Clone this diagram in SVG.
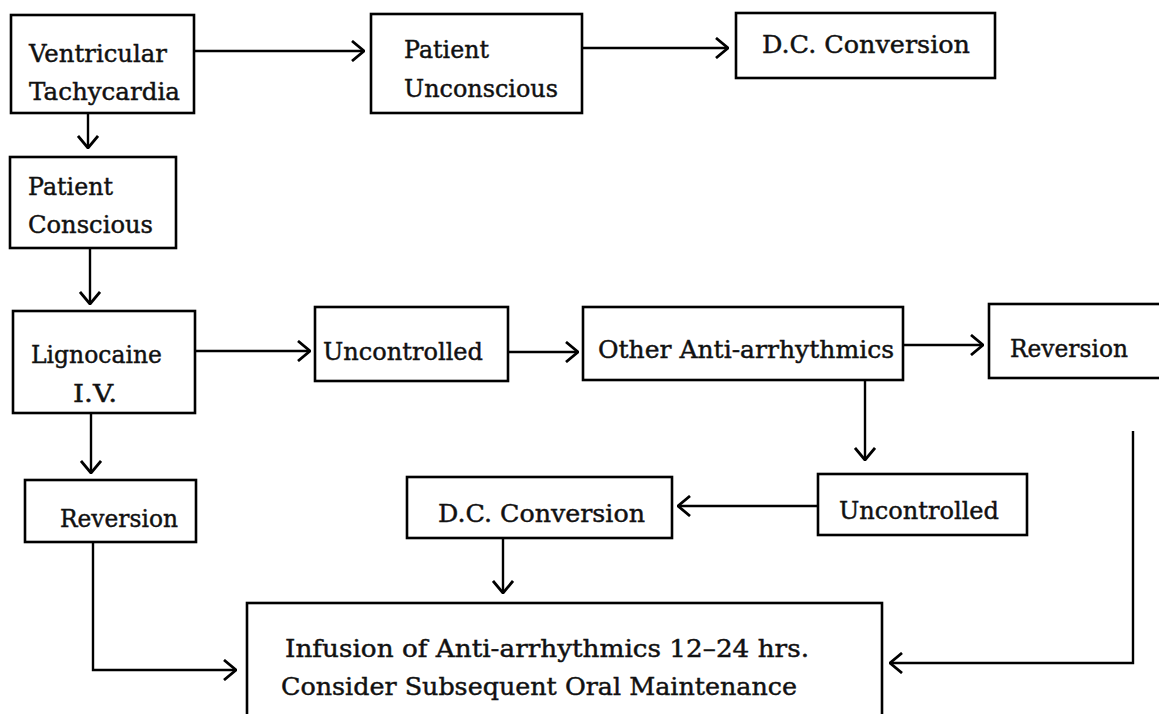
<svg xmlns="http://www.w3.org/2000/svg" width="1159" height="714" viewBox="0 0 1159 714">
<style>
.box{fill:none;stroke:#000;stroke-width:2.6}
.t{font-family:"DejaVu Serif","Liberation Serif",serif;font-size:25px;fill:#111;stroke:#111;stroke-width:0.45}
.c{fill:none;stroke:#000;stroke-width:2.4}
</style>
<defs>
<marker id="ah" viewBox="0 0 14 22" refX="13" refY="11" markerWidth="14" markerHeight="22" markerUnits="userSpaceOnUse" orient="auto">
<path d="M1,1 L13,11 L1,21" fill="none" stroke="#000" stroke-width="2.8"/>
</marker>
</defs>
<rect width="1159" height="714" fill="#fff"/>
<g id="connectors">
<path class="c" d="M194,51 H364" marker-end="url(#ah)"/>
<path class="c" d="M582,48 H728" marker-end="url(#ah)"/>
<path class="c" d="M88,113 V148" marker-end="url(#ah)"/>
<path class="c" d="M90,248 V304" marker-end="url(#ah)"/>
<path class="c" d="M195,351 H310" marker-end="url(#ah)"/>
<path class="c" d="M508,352 H578" marker-end="url(#ah)"/>
<path class="c" d="M903,345 H983" marker-end="url(#ah)"/>
<path class="c" d="M865,380 V460" marker-end="url(#ah)"/>
<path class="c" d="M818,506 H678" marker-end="url(#ah)"/>
<path class="c" d="M503,538 V593" marker-end="url(#ah)"/>
<path class="c" d="M91,413 V473" marker-end="url(#ah)"/>
<path class="c" d="M93,542 V670 H236" marker-end="url(#ah)"/>
<path class="c" d="M1133,431 V663 H890" marker-end="url(#ah)"/>
</g>
<g id="n1"><rect class="box" x="11" y="15" width="183" height="98"/>
<text class="t" x="29" y="62" textLength="138" lengthAdjust="spacingAndGlyphs">Ventricular</text>
<text class="t" x="29" y="100" textLength="151" lengthAdjust="spacingAndGlyphs">Tachycardia</text></g>
<g id="n2"><rect class="box" x="371" y="14" width="211" height="99"/>
<text class="t" x="404" y="58" textLength="85" lengthAdjust="spacingAndGlyphs">Patient</text>
<text class="t" x="404" y="97" textLength="154" lengthAdjust="spacingAndGlyphs">Unconscious</text></g>
<g id="n3"><rect class="box" x="736" y="13" width="259" height="65"/>
<text class="t" x="762" y="53" textLength="208" lengthAdjust="spacingAndGlyphs">D.C.  Conversion</text></g>
<g id="n4"><rect class="box" x="10" y="157" width="166" height="91"/>
<text class="t" x="28" y="195" textLength="85" lengthAdjust="spacingAndGlyphs">Patient</text>
<text class="t" x="28" y="233" textLength="125" lengthAdjust="spacingAndGlyphs">Conscious</text></g>
<g id="n5"><rect class="box" x="13" y="311" width="182" height="102"/>
<text class="t" x="31" y="363" textLength="131" lengthAdjust="spacingAndGlyphs">Lignocaine</text>
<text class="t" x="73" y="402" textLength="44" lengthAdjust="spacingAndGlyphs">I.V.</text></g>
<g id="n6"><rect class="box" x="315" y="307" width="193" height="74"/>
<text class="t" x="323" y="360" textLength="160" lengthAdjust="spacingAndGlyphs">Uncontrolled</text></g>
<g id="n7"><rect class="box" x="583" y="307" width="320" height="73"/>
<text class="t" x="598" y="358" textLength="296" lengthAdjust="spacingAndGlyphs">Other  Anti-arrhythmics</text></g>
<g id="n8"><rect class="box" x="989" y="304" width="180" height="74"/>
<text class="t" x="1010" y="357" textLength="118" lengthAdjust="spacingAndGlyphs">Reversion</text></g>
<g id="n9"><rect class="box" x="818" y="474" width="209" height="61"/>
<text class="t" x="839" y="519" textLength="160" lengthAdjust="spacingAndGlyphs">Uncontrolled</text></g>
<g id="n10"><rect class="box" x="407" y="477" width="265" height="61"/>
<text class="t" x="438" y="522" textLength="207" lengthAdjust="spacingAndGlyphs">D.C.  Conversion</text></g>
<g id="n11"><rect class="box" x="25" y="480" width="171" height="62"/>
<text class="t" x="60" y="527" textLength="118" lengthAdjust="spacingAndGlyphs">Reversion</text></g>
<g id="n12"><rect class="box" x="247" y="603" width="635" height="120"/>
<text class="t" x="285" y="657" textLength="524" lengthAdjust="spacingAndGlyphs">Infusion  of  Anti-arrhythmics  12–24  hrs.</text>
<text class="t" x="281" y="695" textLength="516" lengthAdjust="spacingAndGlyphs">Consider  Subsequent  Oral  Maintenance</text></g>
</svg>
